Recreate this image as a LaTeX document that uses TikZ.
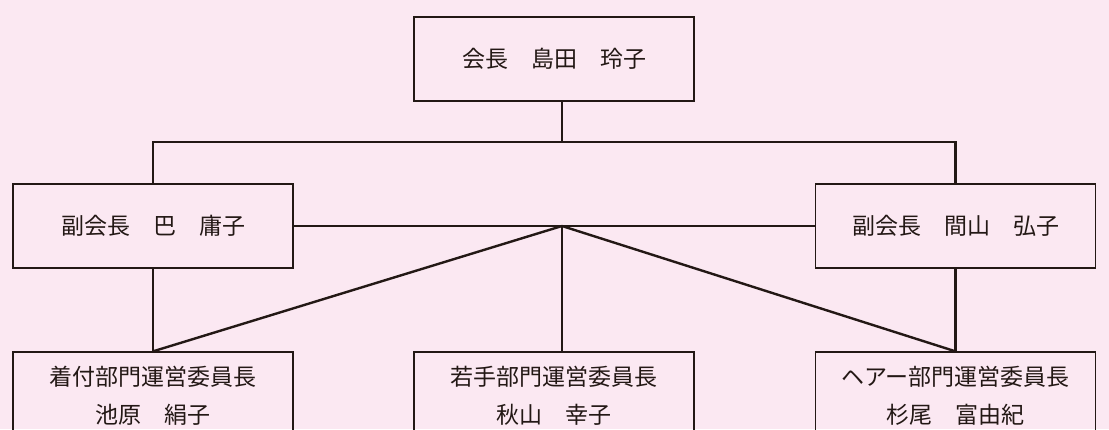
\documentclass[tikz,border=0pt]{standalone}
\usepackage{fontspec}
\newfontfamily\jp{Noto Sans CJK JP}
\definecolor{bg}{RGB}{251,232,242}
\definecolor{ink}{RGB}{35,24,21}
\begin{document}
\begin{tikzpicture}[x=1pt,y=-1pt,
  box/.style={draw=ink, line width=1.3pt, minimum width=280pt, minimum height=84pt, inner sep=0pt,
    font=\jp\fontsize{23}{38}\selectfont, text=ink, align=center},
  conn/.style={draw=ink, line width=2.4pt}]
\useasboundingbox (0,0) rectangle (1109,429);
\fill[bg] (0,0) rectangle (1109,429);
\clip (0,0) rectangle (1109,429);
\node[box] (top) at (554,59) {会長　島田　玲子};
\node[box] (vl) at (153,226) {副会長　巴　庸子};
\node[box] (vr) at (955.5,226) {副会長　間山　弘子};
\node[box, minimum height=88pt] (bl) at (153,396) {着付部門運営委員長\\池原　絹子};
\node[box, minimum height=88pt] (bm) at (554,396) {若手部門運営委員長\\秋山　幸子};
\node[box, minimum height=88pt] (br) at (955.5,396) {ヘアー部門運営委員長\\杉尾　富由紀};
\coordinate (bus) at (562,142);
\coordinate (hub) at (562,226);
\draw[conn] (bus |- top.south) -- (bus);
\draw[conn] (vl.north) -- (vl.north |- bus) -- (vr.north |- bus) -- (vr.north);
\draw[conn] (vl.east) -- (vr.west);
\draw[conn] (vl.south) -- (bl.north);
\draw[conn] (vr.south) -- (br.north);
\draw[conn] (hub) -- (bl.north);
\draw[conn] (hub) -- (br.north);
\draw[conn] (hub) -- (hub |- bm.north);
\end{tikzpicture}
\end{document}
